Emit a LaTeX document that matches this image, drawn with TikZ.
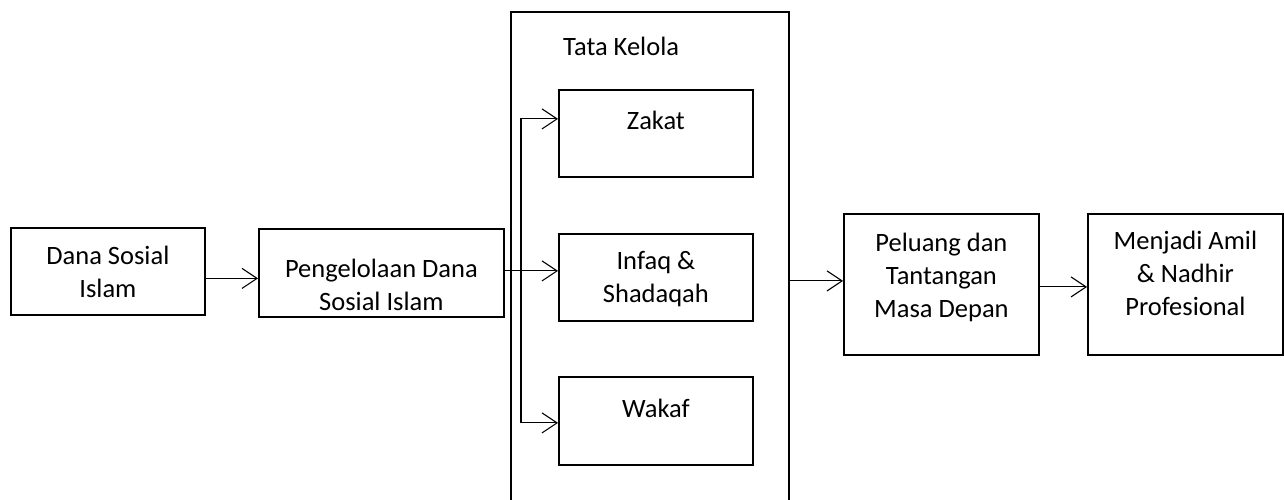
\documentclass[tikz,border=0pt]{standalone}
\usepackage{fontspec}
\setmainfont{Carlito}
\usetikzlibrary{arrows.meta,positioning}

\tikzset{
  box/.style={draw, line width=1.8pt, anchor=north west, inner sep=0pt},
  txt/.style={align=center, inner sep=0pt, font=\fontsize{26.5}{33}\selectfont},
  arr/.style={line width=1.1pt, -{Straight Barb[length=15pt,width=20pt,line width=1.1pt]}},
}

\begin{document}
\begin{tikzpicture}[x=1pt,y=-1pt]
    \clip (0,0) rectangle (1284,499);

    % boxes
    \node[box, minimum width=194, minimum height=87] (dana) at (10,227) {};
    \node[box, minimum width=245, minimum height=88] (peng) at (258,228) {};
    \node[box, minimum width=278, minimum height=520] (tata) at (510,11) {};
    \node[box, minimum width=194, minimum height=87] (zakat) at (558,89) {};
    \node[box, minimum width=194, minimum height=87] (infaq) at (558,233) {};
    \node[box, minimum width=194, minimum height=88] (wakaf) at (558,376) {};
    \node[box, minimum width=195, minimum height=141] (peluang) at (843,213) {};
    \node[box, minimum width=195, minimum height=141] (amil) at (1087,213) {};

    % texts
    \node[txt, below=19pt of dana.north] (danatext) {Dana Sosial\\Islam};
    \node[txt, below=31pt of peng.north] (pengtext) {Pengelolaan Dana\\Sosial Islam};
    \node[txt, anchor=north west] (tatatext) at (563,37) {Tata Kelola};
    \node[txt, below=22pt of zakat.north] (zakattext) {Zakat};
    \node[txt, below=18pt of infaq.north] (infaqtext) {Infaq \&\\Shadaqah};
    \node[txt, below=22.5pt of wakaf.north] (wakaftext) {Wakaf};
    \node[txt, below=20pt of peluang.north] (peluangtext) {Peluang dan\\Tantangan\\Masa Depan};
    \node[txt, below=18pt of amil.north] (amiltext) {Menjadi Amil\\\& Nadhir\\Profesional};

    % arrows
    \draw[arr] ([yshift=-7pt]dana.east) -- ([yshift=-7pt]dana.east -| peng.west);
    \draw[arr] ([yshift=2pt]peng.east) -- ([yshift=2pt]peng.east -| infaq.west);
    \coordinate (fork) at (521,270);
    \draw[arr] (fork) |- ([yshift=14.5pt]zakat.west);
    \draw[arr] (fork) |- ([yshift=-2pt]wakaf.west);
    \draw[arr] ([yshift=3.5pt]peluang.west -| tata.east) -- ([yshift=3.5pt]peluang.west);
    \draw[arr] ([yshift=-2.5pt]peluang.east) -- ([yshift=-2.5pt]peluang.east -| amil.west);
\end{tikzpicture}
\end{document}
